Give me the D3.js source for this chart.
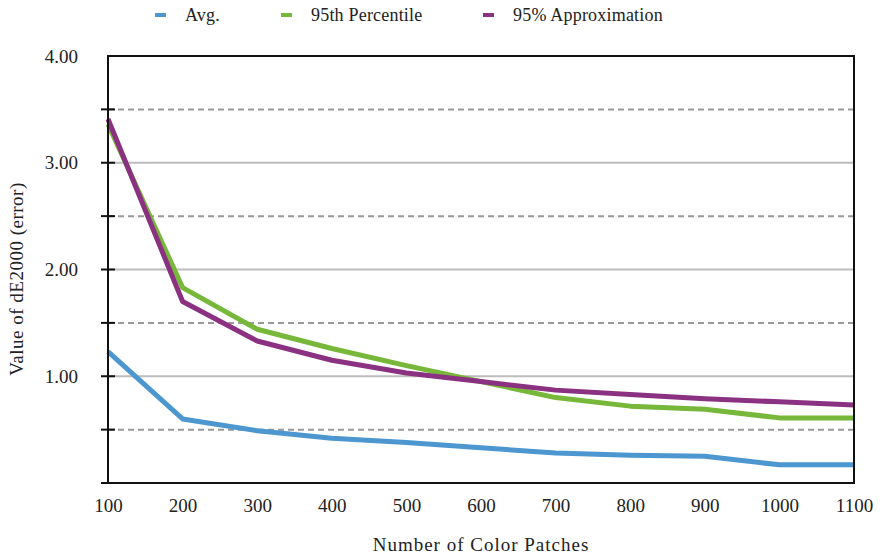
<!DOCTYPE html>
<html>
<head>
<meta charset="utf-8">
<script src="https://cdn.jsdelivr.net/npm/d3@7/dist/d3.min.js"></script>
<style>
  body { margin: 0; background: #fff; }
  text { font-family: 'Liberation Serif', serif; fill: #222; }
</style>
</head>
<body>
<script>
const patches = [100, 200, 300, 400, 500, 600, 700, 800, 900, 1000, 1100]
const avg = [1.23, 0.60, 0.49, 0.42, 0.38, 0.33, 0.28, 0.26, 0.25, 0.17, 0.17]
const p95 = [3.36, 1.83, 1.44, 1.26, 1.10, 0.95, 0.80, 0.72, 0.69, 0.61, 0.61]
const approx95 = [3.41, 1.70, 1.33, 1.15, 1.03, 0.95, 0.87, 0.83, 0.79, 0.76, 0.73]
const yLabelTicks = [1, 2, 3, 4]
const yHalfTicks = [0.5, 1.5, 2.5, 3.5]

const series = [
  { name: 'Avg.', values: avg, color: '#4c97cf' },
  { name: '95th Percentile', values: p95, color: '#77b83a' },
  { name: '95% Approximation', values: approx95, color: '#8a3281' }
]

const width = 881
const height = 557
const margin = { top: 56, right: 27, bottom: 74, left: 108 }

const x = d3.scaleLinear().domain([100, 1100]).range([margin.left, width - margin.right])
const y = d3.scaleLinear().domain([0, 4]).range([height - margin.bottom, margin.top])

const svg = d3.select('body').append('svg')
  .attr('width', width)
  .attr('height', height)

// gridlines
svg.append('g').selectAll('line')
  .data(yLabelTicks.filter(d => d < 4))
  .enter().append('line')
    .attr('x1', x(100)).attr('x2', x(1100))
    .attr('y1', d => y(d)).attr('y2', d => y(d))
    .attr('stroke', '#bdbdbd')
    .attr('stroke-width', 2)

svg.append('g').selectAll('line')
  .data(yHalfTicks)
  .enter().append('line')
    .attr('x1', x(100)).attr('x2', x(1100))
    .attr('y1', d => y(d)).attr('y2', d => y(d))
    .attr('stroke', '#999')
    .attr('stroke-width', 2)
    .attr('stroke-dasharray', '6,4')

// lines
const line = d3.line()
  .x((d, i) => x(patches[i]))
  .y(d => y(d))

svg.append('g').selectAll('path')
  .data(series)
  .enter().append('path')
    .attr('d', d => line(d.values))
    .attr('fill', 'none')
    .attr('stroke', d => d.color)
    .attr('stroke-width', 5)
    .attr('stroke-linejoin', 'round')

// frame
svg.append('rect')
  .attr('x', x(100)).attr('y', y(4))
  .attr('width', x(1100) - x(100))
  .attr('height', y(0) - y(4))
  .attr('fill', 'none')
  .attr('stroke', '#111')
  .attr('stroke-width', 2)

// y axis
const yAxis = d3.axisLeft(y)
  .tickValues(yLabelTicks)
  .tickFormat(d3.format('.2f'))
  .tickSize(0)
  .tickPadding(30)

const gy = svg.append('g')
  .attr('transform', 'translate(' + x(100) + ',0)')
  .call(yAxis)
gy.select('.domain').remove()
gy.selectAll('text').style('font-size', '19px').style('font-family', "'Liberation Serif', serif")

svg.append('g').selectAll('line')
  .data(d3.range(0.5, 4, 0.5))
  .enter().append('line')
    .attr('x1', x(100) - 7).attr('x2', x(100) + 7)
    .attr('y1', d => y(d)).attr('y2', d => y(d))
    .attr('stroke', '#111')
    .attr('stroke-width', 2)

svg.append('line')
  .attr('x1', x(100) - 7).attr('x2', x(100))
  .attr('y1', y(0)).attr('y2', y(0))
  .attr('stroke', '#111').attr('stroke-width', 2)

// x axis
const xAxis = d3.axisBottom(x)
  .tickValues(patches)
  .tickFormat(d3.format('d'))
  .tickSize(0)
  .tickPadding(16)

const gx = svg.append('g')
  .attr('transform', 'translate(0,' + y(0) + ')')
  .call(xAxis)
gx.select('.domain').remove()
gx.selectAll('text').style('font-size', '19px').style('font-family', "'Liberation Serif', serif")

// axis titles
svg.append('text')
  .attr('x', 481)
  .attr('y', 551)
  .attr('text-anchor', 'middle')
  .style('font-size', '19px')
  .style('letter-spacing', '1px')
  .text('Number of Color Patches')

svg.append('text')
  .attr('transform', 'translate(23,279) rotate(-90)')
  .attr('text-anchor', 'middle')
  .style('font-size', '19px')
  .style('letter-spacing', '0.5px')
  .text('Value of dE2000 (error)')

// legend
const legendX = [155, 281, 483]
const legend = svg.append('g').selectAll('g')
  .data(series)
  .enter().append('g')
    .attr('transform', (d, i) => 'translate(' + legendX[i] + ',15)')

legend.append('line')
  .attr('x1', 0).attr('x2', 11)
  .attr('stroke', d => d.color)
  .attr('stroke-width', 4)

legend.append('text')
  .attr('x', 30)
  .attr('y', 6)
  .style('font-size', '18px')
  .style('letter-spacing', '0.2px')
  .text(d => d.name)
</script>
</body>
</html>
